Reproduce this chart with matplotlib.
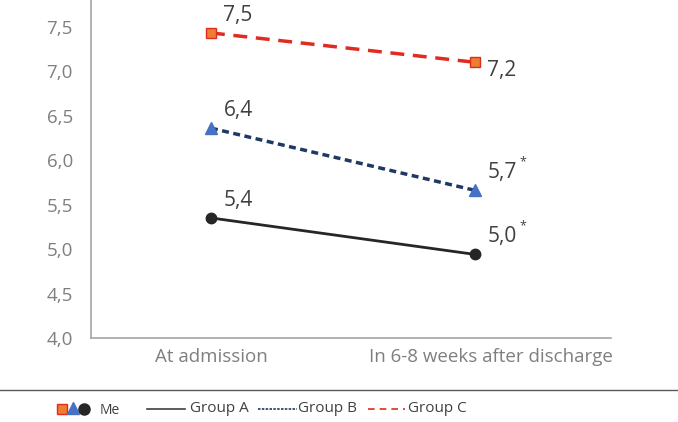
import matplotlib.pyplot as plt
from matplotlib.lines import Line2D
from matplotlib.transforms import ScaledTranslation

plt.rcParams['font.family'] = ['Open Sans', 'DejaVu Sans']

# Data
categories = ["At admission", "In 6-8 weeks after discharge"]
group_a = [5.35, 4.94]
group_b = [6.36, 5.66]
group_c = [7.43, 7.10]
labels_a = ["5,4", "5,0"]
labels_b = ["6,4", "5,7"]
labels_c = ["7,5", "7,2"]
signif_a = [False, True]
signif_b = [False, True]
yticks = [4.0, 4.5, 5.0, 5.5, 6.0, 6.5, 7.0, 7.5]

fig = plt.figure(figsize=(6.78, 4.22), dpi=100)
ax = fig.add_axes([0.134, 0.199, 0.767, 0.801])

x = list(range(len(categories)))

ax.plot(x, group_a, color="#262626", lw=2, ls="-",
        marker="o", ms=7.5, mfc="#262626", mec="#262626", zorder=3)
ax.plot(x, group_b, color="#1f3864", lw=2.5, ls=(0, (2, 1.3)),
        marker="^", ms=9, mfc="#4472c4", mec="#4472c4", zorder=3)
ax.plot(x, group_c, color="#e02b20", lw=2.5, ls=(0, (4, 2.5)),
        marker="s", ms=7.5, mfc="#ed7d31", mec="#e02b20", mew=1, zorder=3)

# Data labels
lab_kw = dict(textcoords="offset points", fontsize=15, color="#404040",
              ha="left")
for vals, labs, sig in [(group_a, labels_a, signif_a),
                        (group_b, labels_b, signif_b)]:
    for xi, v, lab, s in zip(x, vals, labs, sig):
        ax.annotate(lab, (xi, v), xytext=(9, 5), va="bottom", **lab_kw)
        if s:
            ax.annotate("*", (xi, v), xytext=(32, 16), textcoords="offset points",
                        fontsize=9, color="#404040", ha="left", va="bottom")
ax.annotate(labels_c[0], (x[0], group_c[0]), xytext=(9, 5), va="bottom", **lab_kw)
ax.annotate(labels_c[1], (x[1], group_c[1]), xytext=(9, -6), va="center", **lab_kw)

ax.set_xlim(-0.455, 1.515)
ax.set_ylim(4.0, 7.8)
ax.set_yticks(yticks)
ax.set_yticklabels([f"{t:.1f}".replace(".", ",") for t in yticks])
ax.set_xticks(x)
ax.set_xticklabels(categories)
ax.tick_params(axis="both", length=0, labelsize=13.5, labelcolor="#7f7f7f")
ax.tick_params(axis="y", pad=13)
ax.tick_params(axis="x", pad=7)
# long category label is pushed right so it ends at the axis end
lbl = ax.get_xticklabels()[1]
lbl.set_transform(lbl.get_transform() + ScaledTranslation(16 / 100, 0, fig.dpi_scale_trans))

for s in ["top", "right"]:
    ax.spines[s].set_visible(False)
for s in ["left", "bottom"]:
    ax.spines[s].set_color("#a6a6a6")
    ax.spines[s].set_linewidth(1.2)

# Separator line above legend
fig.add_artist(Line2D([0, 1], [0.076, 0.076], transform=fig.transFigure,
                      color="#595959", lw=1))

# Legend (drawn manually)
ly = 1 - 409 / 422
W = 678
fig.add_artist(Line2D([62 / W], [ly], transform=fig.transFigure, marker="s",
                      ms=7.5, mfc="#ed7d31", mec="#e02b20", ls="none"))
fig.add_artist(Line2D([73 / W], [ly + 0.003], transform=fig.transFigure,
                      marker="^", ms=9, mfc="#4472c4", mec="#4472c4", ls="none"))
fig.add_artist(Line2D([84 / W], [ly], transform=fig.transFigure, marker="o",
                      ms=8, mfc="#262626", mec="#262626", ls="none"))
fig.text(100 / W, ly - 0.003, "Me", fontsize=10, color="#404040",
         ha="left", va="center")

leg_kw = dict(fontsize=11, color="#404040", ha="left", va="center")
fig.add_artist(Line2D([147 / W, 185 / W], [ly, ly], transform=fig.transFigure,
                      color="#404040", lw=1.2))
fig.text(190 / W, ly, "Group A", **leg_kw)
fig.add_artist(Line2D([258 / W, 297 / W], [ly, ly], transform=fig.transFigure,
                      color="#1f3864", lw=1.2, ls=(0, (1.5, 0.8))))
fig.text(298 / W, ly, "Group B", **leg_kw)
fig.add_artist(Line2D([368 / W, 405 / W], [ly, ly], transform=fig.transFigure,
                      color="#e02b20", lw=1.2, ls=(0, (4, 3))))
fig.text(408 / W, ly, "Group C", **leg_kw)

fig.savefig("out.png", dpi=100)
